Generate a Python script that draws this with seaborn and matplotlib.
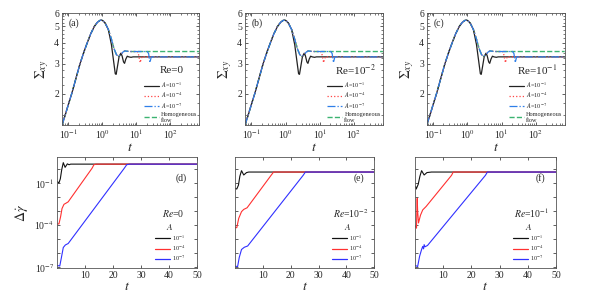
import numpy as np
import matplotlib
matplotlib.use('Agg')
import matplotlib.pyplot as plt
from matplotlib.ticker import FixedLocator, FuncFormatter, NullFormatter, MultipleLocator, LogLocator
from matplotlib.lines import Line2D
import seaborn as sns

sns.set_theme(style='ticks')
plt.rcParams['font.family'] = ['Liberation Serif', 'DejaVu Serif']
plt.rcParams['mathtext.fontset'] = 'stix'

# ---- top row: shear stress Sigma_xy vs t (log-log) ----
t_rise = [0.065, 0.08, 0.1, 0.126, 0.16, 0.22, 0.29, 0.36, 0.45, 0.58, 0.72, 0.85, 0.95, 1.05, 1.2, 1.5]
s_rise = [1.30, 1.48, 1.72, 2.0, 2.38, 3.0, 3.55, 4.0, 4.5, 5.0, 5.3, 5.43, 5.45, 5.4, 5.25, 4.8]

t_homog = [1.85, 2.2, 2.6, 3.0, 3.5, 4.0, 4.6, 5.5, 7.0, 700]
s_homog = [4.2, 3.7, 3.4, 3.32, 3.4, 3.52, 3.58, 3.56, 3.55, 3.55]

t_A1 = [1.85, 2.15, 2.4, 2.55, 2.75, 3.1, 3.5, 3.8, 4.2, 4.5, 4.9, 5.4, 6.0, 7.0, 8.0, 700]
s_A1 = [3.9, 3.1, 2.62, 2.6, 2.85, 3.3, 3.47, 3.35, 3.08, 3.02, 3.2, 3.33, 3.3, 3.28, 3.3, 3.3]

t_A4 = [10.5, 11.5, 12.3, 13.0, 13.8, 14.8, 16.0, 700]
s_A4 = [3.55, 3.45, 3.2, 3.05, 3.2, 3.32, 3.3, 3.3]

t_A7 = [21.0, 23.0, 24.2, 25.0, 26.0, 27.5, 700]
s_A7 = [3.55, 3.45, 3.2, 3.05, 3.15, 3.3, 3.3]

re_top = ['Re=0', 'Re=10$^{-2}$', 'Re=10$^{-1}$']
tags_top = ['(a)', '(b)', '(c)']

# ---- bottom row: shear-rate band contrast vs t ----
tb_d1 = [0.2, 0.7, 1.2, 1.7, 2.25, 2.9, 3.7, 4.3, 4.9, 50]
gb_d1 = [0.12, 0.10, 0.2, 0.9, 2.8, 1.3, 2.3, 2.0, 2.2, 2.2]
tb_d4 = [0.2, 0.7, 1.3, 1.8, 2.5, 3.2, 4.0, 12.5, 13.2, 14.0, 50]
gb_d4 = [1.2e-4, 1.2e-4, 4e-4, 1.5e-3, 3e-3, 3.6e-3, 4.5e-3, 1.1, 2.0, 2.2, 2.2]
tb_d7 = [0.2, 1.0, 1.6, 2.25, 3.0, 4.0, 24.0, 24.9, 26.0, 50]
gb_d7 = [1.3e-7, 1.2e-7, 5e-7, 2.5e-6, 3.8e-6, 4.8e-6, 1.1, 2.0, 2.2, 2.2]

tb_e1 = [0.2, 0.7, 1.3, 1.8, 2.4, 3.2, 4.2, 5.0, 50]
gb_e1 = [0.04, 0.037, 0.07, 0.3, 0.75, 0.37, 0.55, 0.6, 0.6]
tb_e4 = [0.2, 0.7, 1.4, 2.4, 3.2, 4.4, 13.0, 13.9, 50]
gb_e4 = [6.5e-5, 6.5e-5, 3e-4, 9e-4, 1.3e-3, 1.7e-3, 0.35, 0.6, 0.6]
tb_e7 = [0.2, 1.0, 1.6, 2.4, 3.4, 4.6, 24.5, 25.3, 50]
gb_e7 = [1.15e-7, 1.1e-7, 5e-7, 1.8e-6, 2.6e-6, 3.2e-6, 0.35, 0.6, 0.6]

tb_f1 = [0.3, 0.5, 1.2, 1.8, 2.4, 3.3, 4.3, 5.9, 50]
gb_f1 = [0.055, 0.037, 0.08, 0.3, 0.75, 0.37, 0.55, 0.6, 0.6]
tb_f4 = [0.2, 0.6, 0.75, 0.85, 1.0, 1.3, 2.0, 2.8, 4.0, 13.0, 13.6, 50]
gb_f4 = [8e-5, 6e-5, 2e-3, 8e-3, 1e-3, 1.4e-4, 5e-4, 1.2e-3, 2.1e-3, 0.35, 0.6, 0.6]
tb_f7 = [0.2, 1.0, 1.7, 2.4, 2.8, 3.1, 3.3, 3.6, 4.5, 25.0, 25.7, 50]
gb_f7 = [1.3e-7, 1.1e-7, 6e-7, 1.8e-6, 3e-6, 2e-6, 4e-6, 2.8e-6, 3.5e-6, 0.35, 0.6, 0.6]

re_bot = ['$Re$=0', '$Re$=10$^{-2}$', '$Re$=10$^{-1}$']
tags_bot = ['(d)', '(e)', '(f)']
A_labels = ['10$^{-1}$', '10$^{-4}$', '10$^{-7}$']

c_blk, c_red, c_blu, c_grn = '#222222', '#ff4444', '#2f7fe8', '#3cb371'

fig = plt.figure(figsize=(5.96, 3.05), dpi=100)
top_pos = [[0.104, 0.590, 0.230, 0.367],
           [0.411, 0.590, 0.2315, 0.367],
           [0.716, 0.590, 0.2315, 0.367]]
bot_pos = [[0.0956, 0.121, 0.235, 0.364],
           [0.394, 0.121, 0.234, 0.364],
           [0.696, 0.121, 0.237, 0.364]]


def style_axes(ax):
    ax.tick_params(which='both', direction='in', top=True, right=True,
                   labelsize=7, pad=2, color='#444444')
    ax.tick_params(which='major', length=2.5, width=0.6)
    ax.tick_params(which='minor', length=1.3, width=0.5)
    for sp in ax.spines.values():
        sp.set_linewidth(0.6)
        sp.set_color('#555555')


for i in range(3):
    ax = fig.add_axes(top_pos[i])
    ax.set_xscale('log')
    ax.set_yscale('log')
    g_t = t_rise + t_homog
    g_s = s_rise + s_homog
    sns.lineplot(x=g_t, y=g_s, ax=ax, color=c_grn, linestyle='--', lw=1.0,
                 estimator=None, sort=False)
    sns.lineplot(x=t_rise + t_A1, y=s_rise + s_A1, ax=ax, color=c_blk, lw=0.9,
                 estimator=None, sort=False)
    t4 = t_rise + t_homog[:-1] + t_A4
    s4 = s_rise + s_homog[:-1] + s_A4
    sns.lineplot(x=t4, y=s4, ax=ax, color=c_red, linestyle=':', lw=0.9,
                 estimator=None, sort=False)
    t7 = t_rise + t_homog[:-1] + t_A7
    s7 = s_rise + s_homog[:-1] + s_A7
    sns.lineplot(x=t7, y=s7, ax=ax, color=c_blu, linestyle='-.', lw=0.9,
                 estimator=None, sort=False)
    ax.set_xlim(0.065, 700)
    ax.set_ylim(1.3, 6)
    ax.yaxis.set_major_locator(FixedLocator([2, 3, 4, 5, 6]))
    ax.yaxis.set_major_formatter(FuncFormatter(lambda v, p: f'{v:.0f}'))
    ax.yaxis.set_minor_locator(MultipleLocator(0.25))
    ax.yaxis.set_minor_formatter(NullFormatter())
    ax.xaxis.set_major_locator(FixedLocator([0.1, 1, 10, 100]))
    ax.xaxis.set_major_formatter(FuncFormatter(
        lambda v, p: '10$^{%d}$' % round(np.log10(v))))
    ax.xaxis.set_minor_locator(LogLocator(base=10, subs=np.arange(2, 10), numticks=20))
    ax.xaxis.set_minor_formatter(NullFormatter())
    style_axes(ax)
    ax.set_xlabel('$t$', fontsize=10, labelpad=0)
    ax.set_ylabel(r'$\Sigma_{xy}$', fontsize=10, labelpad=2)
    ax.text(0.05, 0.89, tags_top[i], transform=ax.transAxes, fontsize=7)
    ax.text(0.80, 0.49, re_top[i], transform=ax.transAxes, fontsize=8,
            ha='center', va='center')
    handles = [Line2D([], [], color=c_blk, lw=0.9),
               Line2D([], [], color=c_red, lw=0.9, ls=':'),
               Line2D([], [], color=c_blu, lw=0.9, ls='-.'),
               Line2D([], [], color=c_grn, lw=1.0, ls='--')]
    labels = ['$A$=10$^{-1}$', '$A$=10$^{-4}$', '$A$=10$^{-7}$', 'Homogeneous\nflow']
    ax.legend(handles, labels, loc='lower left', bbox_to_anchor=(0.58, 0.0),
              frameon=False, fontsize=4.5, handlelength=2.4, handletextpad=0.3,
              labelspacing=0.15, borderaxespad=0.2, borderpad=0.2)

bot_data = [
    [(tb_d1, gb_d1), (tb_d4, gb_d4), (tb_d7, gb_d7)],
    [(tb_e1, gb_e1), (tb_e4, gb_e4), (tb_e7, gb_e7)],
    [(tb_f1, gb_f1), (tb_f4, gb_f4), (tb_f7, gb_f7)],
]
bot_colors = ['#111111', '#ff3030', '#3030ff']
decades = [10.0 ** k for k in range(-7, 1)]

for i in range(3):
    ax = fig.add_axes(bot_pos[i])
    ax.set_yscale('log')
    for (tt, gg), col in zip(bot_data[i], bot_colors):
        sns.lineplot(x=tt, y=gg, ax=ax, color=col, lw=0.8,
                     estimator=None, sort=False)
    ax.set_xlim(0, 50)
    ax.set_ylim(8.5e-8, 7)
    ax.xaxis.set_major_locator(FixedLocator([10, 20, 30, 40, 50]))
    ax.yaxis.set_major_locator(FixedLocator(decades))
    ax.yaxis.set_minor_locator(FixedLocator([]))
    if i == 0:
        ax.yaxis.set_major_formatter(FuncFormatter(
            lambda v, p: '10$^{%d}$' % round(np.log10(v))
            if round(np.log10(v)) in (-1, -4, -7) else ''))
        ax.set_ylabel(r'$\Delta\dot{\gamma}$', fontsize=10, labelpad=3)
    else:
        ax.yaxis.set_major_formatter(NullFormatter())
    style_axes(ax)
    ax.set_xlabel('$t$', fontsize=10, labelpad=0)
    ax.text(0.89, 0.81, tags_bot[i], transform=ax.transAxes, fontsize=7,
            ha='center', va='center')
    ax.text(0.83, 0.49, re_bot[i], transform=ax.transAxes, fontsize=7,
            ha='center', va='center')
    handles = [Line2D([], [], color=c, lw=0.9) for c in bot_colors]
    ax.legend(handles, A_labels, title='$A$', loc='lower left',
              bbox_to_anchor=(0.68, 0.02), frameon=False, fontsize=4.5,
              title_fontsize=6.5, handlelength=2.4, handletextpad=0.3,
              labelspacing=0.12, borderaxespad=0.2, borderpad=0.2)

fig.savefig('out.png', dpi=100)
